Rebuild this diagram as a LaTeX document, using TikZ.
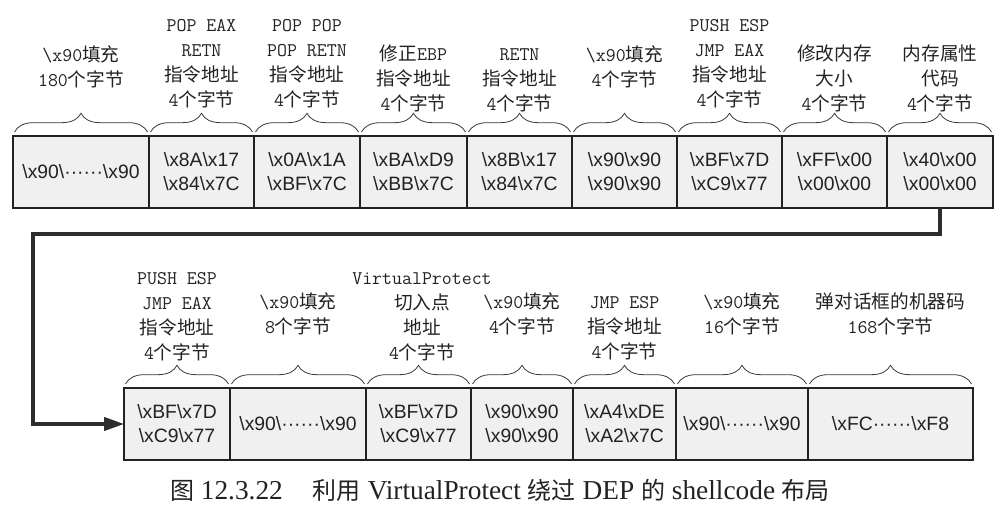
\documentclass[tikz,border=0pt]{standalone}
\usepackage{fontspec}
\setmainfont{Liberation Serif}
\setsansfont{Liberation Sans}
\newfontfamily\cjfont{Noto Sans CJK SC}
\usetikzlibrary{decorations.pathreplacing,arrows.meta,calc}
\newcommand\zh[1]{{\cjfont\fontsize{14}{18.75}\selectfont #1}}
\newcommand\zhc[1]{{\cjfont\fontsize{18}{22}\selectfont #1}}
\newcommand\bs{\textbackslash}
\definecolor{cellfill}{HTML}{F0F0F0}
\definecolor{ink}{HTML}{222222}
\tikzset{
  cell/.style={draw=ink, line width=0.9pt, fill=cellfill, minimum height=54pt,
    inner sep=0pt, outer sep=0pt, align=center,
    font=\sffamily\fontsize{14.5}{18}\selectfont, text=ink},
  cw/.style={minimum width=#1*0.75pt},
  lab/.style={anchor=north, inner sep=0pt, align=center, text=ink,
    font=\ttfamily\fontsize{14.5}{18.75}\selectfont},
  brc/.style={decorate, decoration={brace, amplitude=14pt, aspect=0.5},
    draw=ink!90, line width=0.6pt},
  flow/.style={draw=ink!95, line width=2.4pt,
    -{Triangle[length=15pt,width=10pt]}}
}
\begin{document}
\begin{tikzpicture}[x=0.75pt,y=-0.75pt]
\useasboundingbox (0,0) rectangle (1008,514);
% ---------- row 1 cells ----------
\node[cell,cw=136] (r1a) at (81,172)    {\bs x90\bs······\bs x90};
\node[cell,cw=105] (r1b) at (201.5,172) {\bs x8A\bs x17\\\bs x84\bs x7C};
\node[cell,cw=106] (r1c) at (307,172)   {\bs x0A\bs x1A\\\bs xBF\bs x7C};
\node[cell,cw=107] (r1d) at (413.5,172) {\bs xBA\bs xD9\\\bs xBB\bs x7C};
\node[cell,cw=105] (r1e) at (519.5,172) {\bs x8B\bs x17\\\bs x84\bs x7C};
\node[cell,cw=105] (r1f) at (624.5,172) {\bs x90\bs x90\\\bs x90\bs x90};
\node[cell,cw=105] (r1g) at (729.5,172) {\bs xBF\bs x7D\\\bs xC9\bs x77};
\node[cell,cw=105] (r1h) at (834.5,172) {\bs xFF\bs x00\\\bs x00\bs x00};
\node[cell,cw=106] (r1i) at (940,172)   {\bs x40\bs x00\\\bs x00\bs x00};
% ---------- row 2 cells ----------
\node[cell,cw=106] (r2a) at (177,424)   {\bs xBF\bs x7D\\\bs xC9\bs x77};
\node[cell,cw=136] (r2b) at (298,424)   {\bs x90\bs······\bs x90};
\node[cell,cw=105] (r2c) at (418.5,424) {\bs xBF\bs x7D\\\bs xC9\bs x77};
\node[cell,cw=102] (r2d) at (522,424)   {\bs x90\bs x90\\\bs x90\bs x90};
\node[cell,cw=103] (r2e) at (624.5,424) {\bs xA4\bs xDE\\\bs xA2\bs x7C};
\node[cell,cw=132] (r2f) at (742,424)   {\bs x90\bs······\bs x90};
\node[cell,cw=165] (r2g) at (890.5,424) {\bs xFC······\bs xF8};
% ---------- braces ----------
\foreach \n in {r1a,r1b,r1c,r1d,r1e,r1f,r1g,r1h,r1i,r2a,r2b,r2c,r2d,r2e,r2f,r2g}{
  \draw[brc] ($(\n.north west)+(1.5,-4)$) -- ($(\n.north east)+(-1.5,-4)$);
}
% ---------- row 1 labels ----------
\node[lab] (l1a) at (81,44)    {\strut\bs x90\zh{填充}\\180\zh{个字节}};
\node[lab] (l1b) at (201.5,14) {\strut POP EAX\\RETN\\\zh{指令地址}\\4\zh{个字节}};
\node[lab] (l1c) at (307,14)   {\strut POP POP\\POP RETN\\\zh{指令地址}\\4\zh{个字节}};
\node[lab] (l1d) at (413.5,43) {\strut\zh{修正}EBP\\\zh{指令地址}\\4\zh{个字节}};
\node[lab] (l1e) at (519.5,43) {\strut RETN\\\zh{指令地址}\\4\zh{个字节}};
\node[lab] (l1f) at (624.5,44) {\strut\bs x90\zh{填充}\\4\zh{个字节}};
\node[lab] (l1g) at (729.5,14) {\strut PUSH ESP\\JMP EAX\\\zh{指令地址}\\4\zh{个字节}};
\node[lab] (l1h) at (834.5,43) {\strut\zh{修改内存}\\\zh{大小}\\4\zh{个字节}};
\node[lab] (l1i) at (940,43)   {\strut\zh{内存属性}\\\zh{代码}\\4\zh{个字节}};
% ---------- row 2 labels ----------
\node[lab] (l2a) at (177,267)   {\strut PUSH ESP\\JMP EAX\\\zh{指令地址}\\4\zh{个字节}};
\node[lab] (l2b) at (298,291)   {\strut\bs x90\zh{填充}\\8\zh{个字节}};
\node[lab] (l2c) at (422,267)   {\strut VirtualProtect\\\zh{切入点}\\\zh{地址}\\4\zh{个字节}};
\node[lab] (l2d) at (522,291)   {\strut\bs x90\zh{填充}\\4\zh{个字节}};
\node[lab] (l2e) at (624.5,291) {\strut JMP ESP\\\zh{指令地址}\\4\zh{个字节}};
\node[lab] (l2f) at (742,291)   {\strut\bs x90\zh{填充}\\16\zh{个字节}};
\node[lab] (l2g) at (890.5,291) {\strut\zh{弹对话框的机器码}\\168\zh{个字节}};
% ---------- connector ----------
\coordinate (k1) at (33,234);
\draw[flow] (r1i.south) |- (k1) |- (r2a.west);
% ---------- caption ----------
\node[inner sep=0pt, text=ink, font=\rmfamily\fontsize{20.5}{24}\selectfont] (cap) at (500,490)
  {\zhc{图} 12.3.22\hspace{1.1em}\zhc{利用} VirtualProtect \zhc{绕过} DEP \zhc{的} shellcode \zhc{布局}};
\end{tikzpicture}
\end{document}
